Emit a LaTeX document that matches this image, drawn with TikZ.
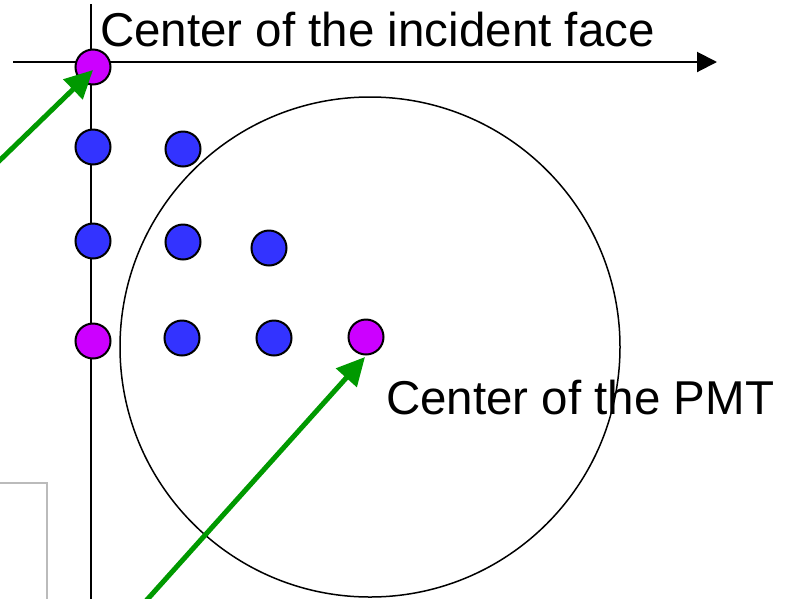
\documentclass[tikz,border=0pt]{standalone}
\usepackage{fontspec}
\setmainfont{Liberation Sans}
\usetikzlibrary{arrows.meta}
\definecolor{dotblue}{HTML}{3333FF}
\definecolor{dotmag}{HTML}{CC00FF}
\definecolor{arrgreen}{HTML}{009900}
\definecolor{boxgray}{HTML}{BBBBBB}
\begin{document}
\begin{tikzpicture}[x=1pt,y=-1pt,
  dotb/.style={circle,draw=black,line width=2pt,fill=dotblue,minimum size=35pt,inner sep=0pt},
  dotm/.style={circle,draw=black,line width=2pt,fill=dotmag,minimum size=35pt,inner sep=0pt},
  label/.style={font=\fontsize{47.5}{50}\selectfont,inner sep=0pt,anchor=base west},
  axis/.style={line width=2pt,draw=black},
  pointer/.style={line width=5pt,draw=arrgreen,-{Triangle[length=28pt,width=27pt]}}]
\useasboundingbox (0,0) rectangle (795,598);
% partial gray box
\draw[boxgray,line width=2pt] (0,483) -- (46.5,483) -- (46.5,600);
% big circle
\node[circle,draw=black,line width=1.5pt,minimum size=500pt,inner sep=0pt] (pmt) at (370,347) {};
% axes
\coordinate (hx0) at (13,62);
\coordinate (hx1) at (717,62);
\coordinate (vy0) at (91,4);
\coordinate (vy1) at (91,600);
\draw[axis] (vy0) -- (vy1);
\draw[axis,-{Triangle[length=20pt,width=20pt]}] (hx0) -- (hx1);
% dots
\node[dotm] (m1) at (93,67) {};
\node[dotb] (b1) at (93,147) {};
\node[dotb] (b2) at (183,149) {};
\node[dotb] (b3) at (93,241) {};
\node[dotb] (b4) at (183,242) {};
\node[dotb] (b5) at (269,248) {};
\node[dotm] (m2) at (93,341) {};
\node[dotb] (b6) at (182,338) {};
\node[dotb] (b7) at (274,338) {};
\node[dotm] (m3) at (366,337) {};
% labels
\node[label] (t1) at (100,46) {Center of the incident face};
\node[label] (t2) at (386,414) {Center of the PMT};
% green arrows
\coordinate (s1) at (-5,165);
\coordinate (e1) at (93,70);
\coordinate (s2) at (145,602);
\coordinate (e2) at (365,357);
\draw[pointer] (s1) -- (e1);
\draw[pointer] (s2) -- (e2);
\end{tikzpicture}
\end{document}
